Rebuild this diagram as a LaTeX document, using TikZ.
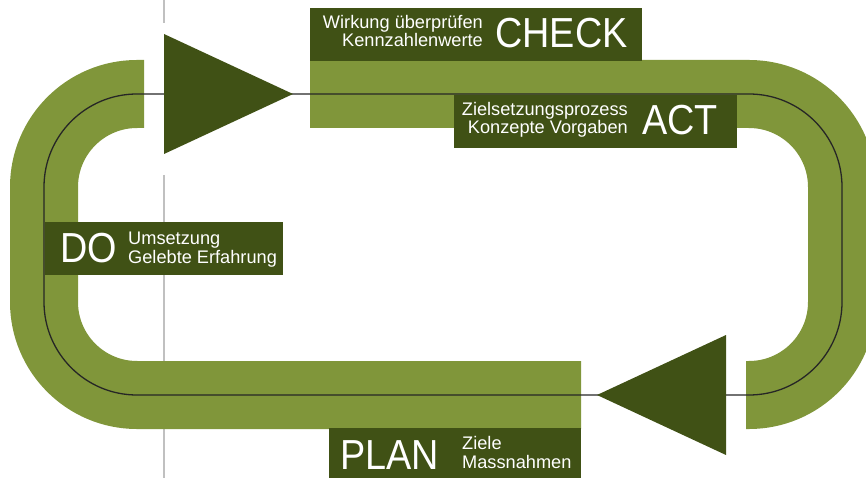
\documentclass[tikz,border=0pt]{standalone}
\usepackage{fontspec}
\setmainfont{Liberation Sans}
\newfontfamily\bigfont[FakeStretch=0.9]{Liberation Sans}
\definecolor{lgreen}{RGB}{128,150,58}
\definecolor{dgreen}{RGB}{64,81,21}
\definecolor{rulegray}{RGB}{192,192,192}
\newcommand{\pairR}[2]{\begin{tabular}[b]{@{}r@{}}#1\\#2\end{tabular}}
\newcommand{\pairL}[2]{\begin{tabular}[b]{@{}l@{}}#1\\#2\end{tabular}}
\begin{document}
\begin{tikzpicture}[x=1pt,y=-1pt,
  band/.style={draw=lgreen, line width=68pt, rounded corners=93pt},
  loopline/.style={draw=black!85, line width=1.3pt, rounded corners=93pt},
  labelbox/.style={fill=dgreen, draw=none, inner sep=0pt, anchor=north west},
  smalltxt/.style={text=white, font=\fontsize{18.2}{16.3}\selectfont, inner sep=0pt},
  bigtxt/.style={text=white, font=\bigfont\fontsize{42}{42}\selectfont, inner sep=0pt},
  arrowtri/.style={fill=dgreen},
  guide/.style={draw=rulegray, line width=1.5pt}]
\useasboundingbox (0,0) rectangle (866,478);
\clip (0,0) rectangle (866,478);
% thin guide line
\coordinate (g1) at (164,0);
\coordinate (g2) at (164,23);
\coordinate (g3) at (164,175);
\coordinate (g4) at (164,478);
\draw[guide] (g1) -- (g2);
\draw[guide] (g3) -- (g4);
% green bands
\draw[band] (310,94) -- (842,94) -- (842,395) -- (746,395);
\draw[band] (581,395) -- (44,395) -- (44,94) -- (144,94);
% loop line
\draw[loopline] (44,94) -- (842,94) -- (842,395) -- (44,395) -- cycle;
% triangles
\fill[arrowtri] (164,34) -- (164,154) -- (293,94) -- cycle;
\fill[arrowtri] (726,335) -- (726,455) -- (597,395) -- cycle;
% label boxes
\node[labelbox, minimum width=332pt, minimum height=53pt] (checkbox) at (310,8) {};
\node[labelbox, minimum width=283pt, minimum height=53pt] (actbox) at (454,95) {};
\node[labelbox, minimum width=238pt, minimum height=53pt] (dobox) at (45,222) {};
\node[labelbox, minimum width=252pt, minimum height=52pt] (planbox) at (329,428) {};
% CHECK
\node[smalltxt, anchor=base east] (ctext) at (483,47) {\pairR{Wirkung überprüfen}{Kennzahlenwerte}};
\node[bigtxt, anchor=base west] (check) at (495,48) {CHECK};
% ACT
\node[smalltxt, anchor=base east] (atext) at (628,134) {\pairR{Zielsetzungsprozess}{Konzepte Vorgaben}};
\node[bigtxt, anchor=base west] (act) at (642,135) {ACT};
% DO
\node[bigtxt, anchor=base west] (do) at (60,262) {DO};
\node[smalltxt, anchor=base west] (dtext) at (128,263) {\pairL{Umsetzung}{Gelebte Erfahrung}};
% PLAN
\node[bigtxt, anchor=base west] (plan) at (340,469) {PLAN};
\node[smalltxt, anchor=base west] (ptext) at (462,468) {\pairL{Ziele}{Massnahmen}};
\end{tikzpicture}
\end{document}
